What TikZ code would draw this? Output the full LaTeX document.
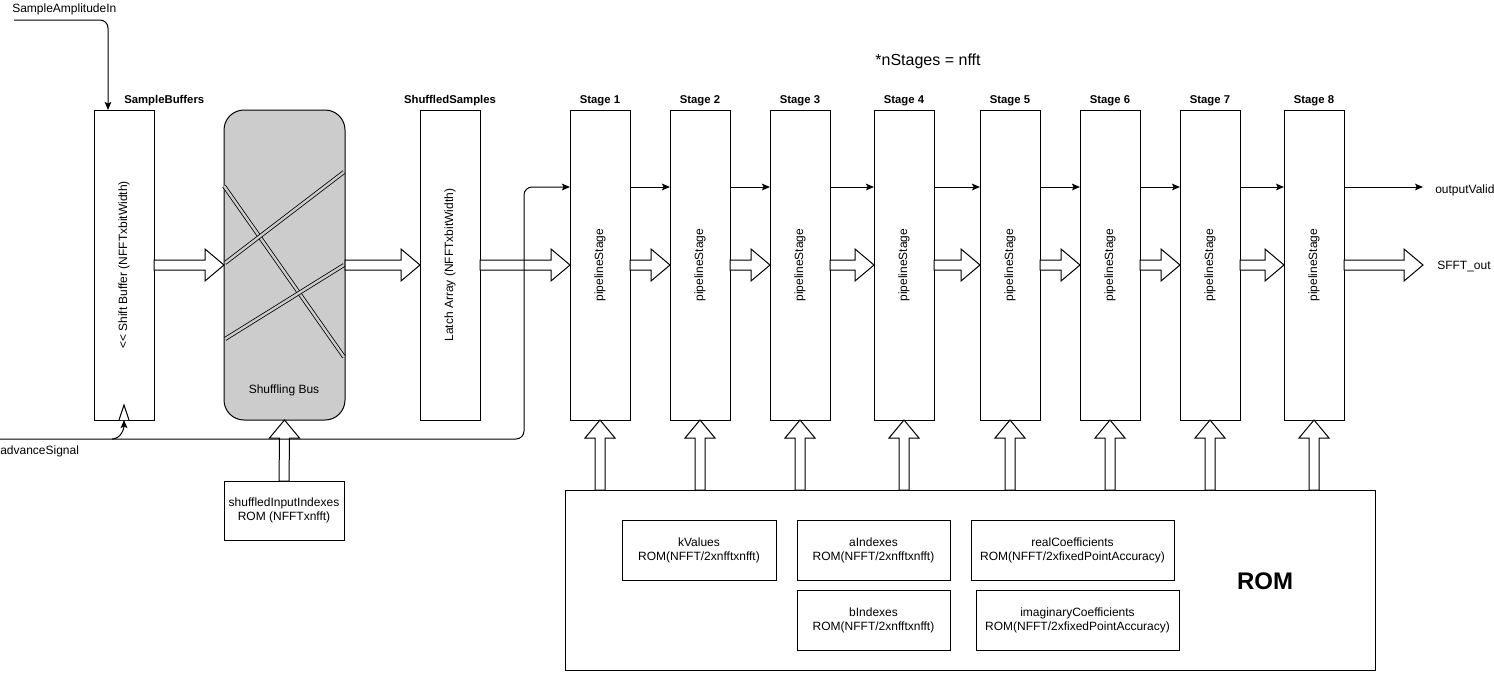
\documentclass[tikz,border=0pt]{standalone}
\usepackage{fontspec}
\setmainfont{Liberation Sans}
\usetikzlibrary{arrows.meta,calc}
\definecolor{shufgray}{HTML}{CCCCCC}
\newcommand\fatH[2]{\draw[fat] ($(#1)+(0,-5)$) -- ($(#2)+(-19,-5)$) -- ($(#2)+(-19,-16)$) -- (#2) -- ($(#2)+(-19,16)$) -- ($(#2)+(-19,5)$) -- ($(#1)+(0,5)$) -- cycle;}
\newcommand\fatV[2]{\draw[fat] ($(#1)+(-5,0)$) -- ($(#2)+(-5,18)$) -- ($(#2)+(-15,18)$) -- (#2) -- ($(#2)+(15,18)$) -- ($(#2)+(5,18)$) -- ($(#1)+(5,0)$) -- cycle;}
\begin{document}
\begin{tikzpicture}[x=0.75pt,y=-0.75pt,
  every node/.style={font=\fontsize{9pt}{10.5pt}\selectfont},
  box/.style={draw, line width=0.75pt, inner sep=0pt, outer sep=0pt},
  tall/.style={box, minimum width=45pt, minimum height=232.5pt},
  rot/.style={rotate=90, inner sep=0pt},
  ttl/.style={font=\fontsize{8.5pt}{10pt}\selectfont\bfseries, inner sep=0pt},
  txt/.style={inner sep=0pt},
  rombox/.style={box, minimum height=45pt, align=center},
  fat/.style={draw, fill=white, line width=0.75pt, line join=miter},
  arr/.style={line width=0.75pt, -{Stealth[length=6pt,width=5pt,inset=1.2pt]}},
  dline/.style={line width=0.6pt, double=shufgray, double distance=1.8pt}
]
\useasboundingbox (0,0) rectangle (1494,672);

% title note
\node[txt, font=\fontsize{12pt}{14pt}\selectfont] (note) at (928,61) {*nStages = nfft};

% sample buffers
\node[tall] (sb) at (124,265) {};
\node[rot] (sbt) at (sb.center) {<{}< Shift Buffer (NFFTxbitWidth)};
\node[ttl, anchor=west] (sbl) at (124,101) {SampleBuffers};
\coordinate (clkL) at (119,420);
\coordinate (clkR) at (129,420);
\coordinate (clkT) at (124,405);
\draw[line width=0.75pt, fill=white] (clkL) -- (clkT) -- (clkR);

% shuffling bus
\node[box, fill=shufgray, rounded corners=15pt, minimum width=90.75pt, minimum height=232.5pt] (sbus) at (284.5,265) {};
\node[txt] (sbust) at (284,390) {Shuffling Bus};
\coordinate (lA1) at (224,186); \coordinate (lA2) at (344,357);
\coordinate (lB1) at (225,263); \coordinate (lB2) at (344,172);
\coordinate (lC1) at (225,339); \coordinate (lC2) at (344,265);
\draw[dline] (lA1) -- (lA2);
\draw[dline] (lB1) -- (lB2);
\draw[dline] (lC1) -- (lC2);

% latch array
\node[tall] (la) at (450,265) {};
\node[rot] (lat) at (la.center) {Latch Array (NFFTxbitWidth)};
\node[ttl] (lal) at (450,101) {ShuffledSamples};

% shuffled input indexes ROM
\node[box, minimum width=90pt, minimum height=44.25pt, align=center] (sir) at (284,510.5) {shuffledInputIndexes\\ROM (NFFTxnfft)};

% stages
\foreach \i/\x in {1/600,2/700,3/800,4/904,5/1010,6/1110,7/1210,8/1314} {
  \node[tall] (s\i) at (\x,265) {};
  \node[rot] (s\i t) at (s\i.center) {pipelineStage};
  \node[ttl] (s\i l) at (\x,101) {Stage \i};
}

% big ROM
\node[box, minimum width=607.5pt, minimum height=135pt] (rom) at (970,580) {};
\node[txt, font=\fontsize{18pt}{20pt}\selectfont\bfseries] (romt) at (1265,581) {ROM};
\node[rombox, minimum width=115.5pt] (kv) at (699,550) {kValues\\ROM(NFFT/2xnfftxnfft)};
\node[rombox, minimum width=114.75pt] (ai) at (873.5,550) {aIndexes\\ROM(NFFT/2xnfftxnfft)};
\node[rombox, minimum width=152.25pt] (rc) at (1072.5,550) {realCoefficients\\ROM(NFFT/2xfixedPointAccuracy)};
\node[rombox, minimum width=114.75pt] (bi) at (873.5,620) {bIndexes\\ROM(NFFT/2xnfftxnfft)};
\node[rombox, minimum width=152.25pt] (ic) at (1077.5,620) {imaginaryCoefficients\\ROM(NFFT/2xfixedPointAccuracy)};

% outputs
\node[txt, anchor=west] (ov) at (1435,190) {outputValid};
\node[txt, anchor=west] (sfo) at (1437,266) {SFFT\_out};
\coordinate (ovend) at (1423,187);
\coordinate (sfoend) at (1423,265);

% fat arrows
\fatH{sb.east}{sbus.west}
\fatH{sbus.east}{la.west}
\fatH{la.east}{s1.west}
\foreach \i/\j in {1/2,2/3,3/4,4/5,5/6,6/7,7/8} {
  \fatH{s\i.east}{s\j.west}
}
\fatH{s8.east}{sfoend}
\fatV{sir.north}{sbus.south}
\foreach \i in {1,...,8} {
  \coordinate (r\i) at (s\i.south |- rom.north);
  \fatV{r\i}{s\i.south}
}

% control signals
\coordinate (sig) at (0,187);
\foreach \i/\j in {1/2,2/3,3/4,4/5,5/6,6/7,7/8} {
  \draw[arr] (s\i.east |- sig) -- (s\j.west |- sig);
}
\draw[arr] (s8.east |- sig) -- (ovend);

\node[txt, anchor=west] (sai) at (12,9) {SampleAmplitudeIn};
\coordinate (saiS) at (14,20);
\coordinate (sbin) at (108,110);
\draw[arr, rounded corners=6pt] (saiS) -| (sbin);

\node[txt, anchor=west] (advt) at (0,451) {advanceSignal};
\coordinate (adv) at (0,439);
\coordinate (bend) at (524,300);
\draw[arr, rounded corners=6pt] (adv) -| (bend) |- (s1.west |- sig);
\coordinate (brA) at (112,439);
\draw[arr] (brA) to[out=0,in=-90] (sb.south);
\end{tikzpicture}
\end{document}
